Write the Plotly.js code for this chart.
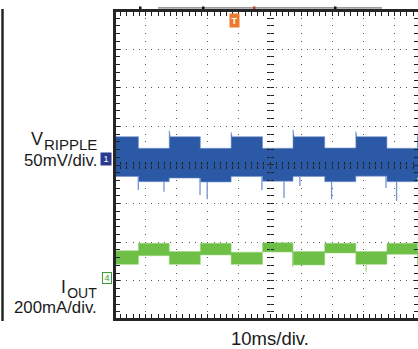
<!DOCTYPE html>
<html><head><meta charset="utf-8">
<script src="https://cdn.plot.ly/plotly-3.0.1.min.js"></script>
<style>html,body{margin:0;padding:0;background:#fff;} #chart{width:418px;height:349px;}</style>
</head><body><div id="chart"></div>
<script>
// ---------------- data read from the scope capture ----------------
// time base 10 ms/div; boundaries of the load-step segments (ms)
const segStartMs = [0, 7.7, 17.6, 27.6, 37.5, 47.6, 57.4, 67.6, 77.6, 87.6, 97.4];
const segEndMs   = [7.7, 17.6, 27.6, 37.5, 47.6, 57.4, 67.6, 77.6, 87.6, 97.4, 100];
// CH1  V_RIPPLE  (mV, 50 mV/div): noise-band envelope of each segment
const rippleTopMv       = [29.1, 14.1, 29.1, 14.1, 29.1, 14.1, 29.1, 14.5, 29.1, 14.1, 24.0];
const rippleBotMv       = [-22.4, -29.1, -24.5, -29.5, -22.4, -28.5, -22.4, -29.1, -22.0, -29.1, -24.0];
const rippleOvershootMv = [null, null, 36.9, null, 34.8, null, 37.8, null, 35.6, null, 31.0];
const rippleSpikeMs = [7.65, 15.9, 27.5, 29.8, 47.4, 54.5, 59.6, 69.8, 87.3, 90.7];
const rippleSpikeMv = [-39.9, -42.1, -46.3, -51.9, -39.9, -50.2, -34.7, -51.9, -37.3, -54.1];
// CH4  I_OUT  (mA, 200 mA/div)
const ioutTopMa = [139, 177, 134, 177, 131, 180, 134, 177, 134, 177, 134];
const ioutBotMa = [68, 113, 68, 117, 68, 132, 65, 127, 68, 120, 67];
const ioutSpikeMs = [57.3, 80.9];
const ioutSpikeMa = [56, 30];
// text
const ch1Name = 'V', ch1Sub = 'RIPPLE', ch1Scale = '50mV/div.';
const ch4Name = 'I', ch4Sub = 'OUT', ch4Scale = '200mA/div.';
const timeScale = '10ms/div.';

// ---------------- geometry ----------------
const M = {l: 116, r: 0, t: 12, b: 31};
const PW = 418 - M.l - M.r, PH = 349 - M.t - M.b;
const X_RANGE = [0.482, 97.59];          // ms (10 ms per division)
const CH1_RANGE = [-205.6, 190.5];       // mV (50 mV per division)
const CH4_RANGE = [-209.7, 1374.8];      // mA (200 mA per division)
const CH1_CENTER = -7.51, CH4_CENTER = 582.5;   // values on the centre graticule line
const px2x = p => (p - M.l) / PW;
const px2y = p => (M.t + PH - p) / PH;
const centerXFrac = (50 - X_RANGE[0]) / (X_RANGE[1] - X_RANGE[0]);
const OVERSHOOT_W = 0.35;

function envelope(top, bot, over) {
  const xs = [], ys = [];
  for (let i = 0; i < segStartMs.length; i++) {
    if (over && over[i] != null) {
      xs.push(segStartMs[i], segStartMs[i] + OVERSHOOT_W); ys.push(over[i], top[i]);
    } else { xs.push(segStartMs[i]); ys.push(top[i]); }
    xs.push(segEndMs[i]); ys.push(top[i]);
  }
  for (let i = segStartMs.length - 1; i >= 0; i--) {
    xs.push(segEndMs[i], segStartMs[i]); ys.push(bot[i], bot[i]);
  }
  return {xs, ys};
}
function spikes(tms, vals, bot) {
  const xs = [], ys = [];
  tms.forEach((t, k) => {
    const i = segStartMs.findIndex((s, j) => t >= s && t < segEndMs[j]);
    xs.push(t, t, null); ys.push(bot[i], vals[k], null);
  });
  return {xs, ys};
}

const BLUE = '#2c59a6', BLUE_L = '#7393cf', GREEN = '#6dbf45', GREEN_L = '#9fd57f';
const e1 = envelope(rippleTopMv, rippleBotMv, rippleOvershootMv);
const e4 = envelope(ioutTopMa, ioutBotMa, null);
const s1 = spikes(rippleSpikeMs, rippleSpikeMv, rippleBotMv);
const s4 = spikes(ioutSpikeMs, ioutSpikeMa, ioutBotMa);

const common = {type: 'scatter', mode: 'lines', hoverinfo: 'skip', showlegend: false};
const data = [
  Object.assign({x: e4.xs, y: e4.ys, xaxis: 'x', yaxis: 'y', fill: 'toself', fillcolor: GREEN,
    line: {width: 0.6, color: GREEN_L}}, common),
  Object.assign({x: s4.xs, y: s4.ys, xaxis: 'x3', yaxis: 'y', line: {width: 1.2, color: GREEN_L}}, common),
  Object.assign({x: s1.xs, y: s1.ys, xaxis: 'x2', yaxis: 'y3', line: {width: 1.3, color: BLUE_L}}, common),
  Object.assign({x: e1.xs, y: e1.ys, xaxis: 'x', yaxis: 'y2', fill: 'toself', fillcolor: BLUE,
    line: {width: 0.6, color: BLUE_L}}, common)
];

const GRID = '#5a5a5a', BORDER = '#262626', TICK = '#222';
const centreTickX = dir => ({overlaying: 'x', anchor: 'free', position: 0.5, side: 'bottom', range: X_RANGE,
  visible: true, showgrid: false, zeroline: false, showline: false, showticklabels: false,
  ticks: dir, ticklen: 3, tickwidth: 1, tickcolor: TICK, dtick: 2, tick0: 0});
const centreTickY = dir => ({overlaying: 'y', anchor: 'free', side: 'left', position: centerXFrac, range: CH1_RANGE,
  visible: true, showgrid: false, zeroline: false, showline: false, showticklabels: false,
  ticks: dir, ticklen: 3, tickwidth: 1, tickcolor: TICK, dtick: 10, tick0: CH1_CENTER});

const FONT = '"Liberation Sans", Arial, Helvetica, sans-serif';
const txt = (text, x, xa, y, size) => ({text, xref: 'paper', yref: 'paper', x: px2x(x), y: px2y(y),
  xanchor: xa, yanchor: 'middle', align: 'right', showarrow: false, borderpad: 0,
  font: {family: FONT, size, color: '#1a1a1a'}});
const sized = (s, px) => '<span style="font-size:' + px + 'px">' + s + '</span>';

const layout = {
  width: 418, height: 349, margin: M,
  paper_bgcolor: '#fff', plot_bgcolor: '#fff', showlegend: false,
  xaxis: {range: X_RANGE, dtick: 10, tick0: 0, showgrid: true, gridcolor: GRID, gridwidth: 1,
    griddash: '0px,5.725px,1px,1px', zeroline: false, showticklabels: false,
    showline: true, linewidth: 3, linecolor: BORDER, mirror: 'ticks',
    ticks: 'inside', ticklen: 4, tickwidth: 1, tickcolor: TICK,
    minor: {dtick: 2, tick0: 0, ticks: 'inside', ticklen: 4, tickwidth: 1, tickcolor: TICK, showgrid: false}},
  yaxis: {range: CH4_RANGE, dtick: 200, tick0: CH4_CENTER, showgrid: true, gridcolor: GRID, gridwidth: 1,
    griddash: '0px,4.22px,1px,1px', zeroline: false, showticklabels: false,
    showline: true, linewidth: 3, linecolor: BORDER, mirror: 'ticks',
    ticks: 'inside', ticklen: 4, tickwidth: 1, tickcolor: TICK,
    minor: {dtick: 40, tick0: CH4_CENTER, ticks: 'inside', ticklen: 4, tickwidth: 1, tickcolor: TICK, showgrid: false}},
  yaxis2: centreTickY('outside'),
  yaxis3: centreTickY('inside'),
  xaxis2: centreTickX('outside'),
  xaxis3: centreTickX('inside'),
  annotations: [
    txt(ch1Name, 44, 'right', 138.7, 18),
    txt(sized(ch1Sub, 15) + '<br>' + sized(ch1Scale, 16.8), 97.8, 'right', 152.9, 12.5),
    txt(ch4Name, 67, 'right', 287, 17.5),
    txt(sized(ch4Sub, 14) + '<br>' + sized(ch4Scale, 16.8), 97.8, 'right', 301.1, 11.8),
    txt(timeScale, 269.5, 'center', 338, 18.5),
    {text: '1', xref: 'paper', yref: 'y2', x: px2x(112), y: 0, xanchor: 'right', yanchor: 'middle',
     showarrow: false, bgcolor: '#2b3a8f', borderpad: 1, width: 8, height: 10,
     font: {family: FONT, size: 9, color: '#fff'}},
    {text: '4', xref: 'paper', yref: 'y', x: px2x(112), y: 0, xanchor: 'right', yanchor: 'middle',
     showarrow: false, bgcolor: '#fff', bordercolor: '#3d9c3a', borderwidth: 1, borderpad: 0, width: 8, height: 10,
     font: {family: FONT, size: 9, color: '#3d9c3a'}},
    {text: '<b>T</b>', xref: 'x', yref: 'paper', x: 38.7, y: px2y(13.5), xanchor: 'center', yanchor: 'top',
     showarrow: false, bgcolor: '#ec7a2e', borderpad: 1, width: 7, height: 11,
     font: {family: FONT, size: 9, color: '#fff'}}
  ],
  shapes: [
    {type: 'line', xref: 'paper', yref: 'paper', x0: px2x(158), x1: px2x(382), y0: px2y(7.9), y1: px2y(7.9),
     line: {color: '#9c9c9c', width: 1.6}},
    {type: 'rect', xref: 'paper', yref: 'paper', x0: px2x(139), x1: px2x(141.5), y0: px2y(6.5), y1: px2y(9),
     fillcolor: '#111', line: {width: 0}},
    {type: 'rect', xref: 'paper', yref: 'paper', x0: px2x(202), x1: px2x(204.5), y0: px2y(6.5), y1: px2y(9),
     fillcolor: '#111', line: {width: 0}},
    {type: 'rect', xref: 'paper', yref: 'paper', x0: px2x(334), x1: px2x(336.5), y0: px2y(6.5), y1: px2y(9),
     fillcolor: '#111', line: {width: 0}},
    {type: 'rect', xref: 'paper', yref: 'paper', x0: px2x(253), x1: px2x(255.5), y0: px2y(6.5), y1: px2y(9),
     fillcolor: '#c0392b', line: {width: 0}},
    {type: 'line', xref: 'paper', yref: 'paper', x0: px2x(2.5), x1: px2x(2.5), y0: px2y(9), y1: px2y(321),
     line: {color: BORDER, width: 2.5}}
  ]
};

Plotly.newPlot('chart', data, layout, {staticPlot: true, displayModeBar: false});
</script>
</body></html>
